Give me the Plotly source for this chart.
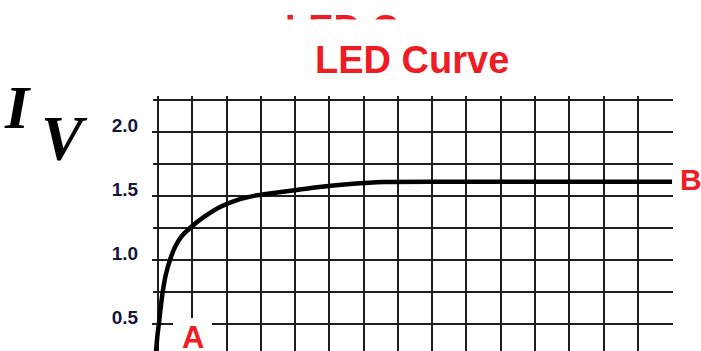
import plotly.graph_objects as go

# ---- data ----
led_x = [-0.10, -0.058, -0.015, 0.029, 0.088, 0.146, 0.233, 0.350, 0.496, 0.671, 0.934,
         1.342, 1.809, 2.305, 2.889, 3.647, 4.640, 5.603, 6.566, 9.0, 15.0]
led_y = [0.20, 0.287, 0.412, 0.506, 0.647, 0.764, 0.889, 0.998, 1.099, 1.177, 1.248,
         1.334, 1.412, 1.466, 1.503, 1.531, 1.566, 1.591, 1.607, 1.609, 1.609]
point_labels = ["A", "B"]
title_text = "LED Curve"
axis_letters = ["I", "V"]

# ---- layout geometry ----
W, H = 701, 351
ML, MR, MT, MB = 153, 28, 96, 0
PW, PH = W - ML - MR, H - MT - MB
X0_PX, UX = 158.0, 34.27      # pixel of x=0 and pixels per x-unit
Y2_PX, UY = 131.7, 128.0      # pixel of y=2.0 and pixels per y-unit
xr = [(ML - X0_PX) / UX, (ML + PW - X0_PX) / UX]
yr = [2.0 - (H - MB - Y2_PX) / UY, 2.0 + (Y2_PX - MT) / UY]


def px(xp):
    return (xp - ML) / PW


def py(yp):
    return (H - MB - yp) / PH


RED = "#ee1c25"
GRID = "#1e1e1e"
SANS = "Liberation Sans"
SERIF = "Liberation Serif"

fig = go.Figure()
fig.add_trace(go.Scatter(
    x=led_x, y=led_y, mode="lines",
    line=dict(color="black", width=4.5, shape="spline", smoothing=0.6),
    hoverinfo="skip", showlegend=False,
))

annotations = [
    # partially hidden duplicate title at the very top
    dict(text=title_text, x=px(381.5), y=py(29), xref="paper", yref="paper",
         xanchor="center", yanchor="middle", showarrow=False,
         font=dict(family=SANS, size=38, color=RED, weight="bold")),
    # white cover hiding most of it
    dict(text=" ", x=px(400), y=py(32), xref="paper", yref="paper",
         xanchor="center", yanchor="middle", showarrow=False,
         width=300, height=24, bgcolor="white", borderpad=0,
         font=dict(size=10)),
    # main title
    dict(text=title_text, x=px(411.5), y=py(60), xref="paper", yref="paper",
         xanchor="center", yanchor="middle", showarrow=False,
         font=dict(family=SANS, size=38, color=RED, weight="bold")),
    # big serif letters on the left
    dict(text=axis_letters[0], x=px(17), y=py(107.5), xref="paper", yref="paper",
         xanchor="center", yanchor="middle", showarrow=False,
         font=dict(family=SERIF, size=62, color="black", weight="bold", style="italic")),
    dict(text=axis_letters[1], x=px(64), y=py(139), xref="paper", yref="paper",
         xanchor="center", yanchor="middle", showarrow=False,
         font=dict(family=SERIF, size=63, color="black", weight="bold", style="italic")),
    # point labels
    dict(text=point_labels[0], x=px(193), y=py(337), xref="paper", yref="paper",
         xanchor="center", yanchor="middle", showarrow=False,
         font=dict(family=SANS, size=31, color=RED, weight="bold")),
    dict(text=point_labels[1], x=px(678), y=py(179), xref="paper", yref="paper",
         xanchor="left", yanchor="middle", showarrow=False,
         font=dict(family=SANS, size=30, color=RED, weight="bold")),
]

shapes = [
    dict(type="rect", xref="paper", yref="paper",
         x0=px(173), x1=px(212), y0=py(360), y1=py(318),
         fillcolor="white", line=dict(width=0), layer="above"),
]

fig.update_layout(
    width=W, height=H,
    margin=dict(l=ML, r=MR, t=MT, b=MB, pad=0),
    paper_bgcolor="white", plot_bgcolor="white",
    showlegend=False,
    annotations=annotations,
    shapes=shapes,
    xaxis=dict(range=xr, tick0=0, dtick=1, showgrid=True, gridcolor=GRID, gridwidth=2,
               showticklabels=False, ticks="", zeroline=False, showline=False,
               fixedrange=True),
    yaxis=dict(range=yr, tick0=0, dtick=0.5, tickformat=".1f",
               anchor="free", position=px(X0_PX),
               ticks="outside", ticklen=6, tickwidth=2, tickcolor=GRID,
               showgrid=True, gridcolor=GRID, gridwidth=2,
               minor=dict(tick0=0, dtick=0.25, showgrid=True, gridcolor=GRID, gridwidth=2),
               zeroline=False, showline=False,
               tickfont=dict(family=SANS, size=19, color="#16163a", weight="bold"),
               ticklabelstandoff=10, ticklabelshift=-6, fixedrange=True),
)

fig.write_html("out.html", config={"displayModeBar": False},
               post_script="document.body.style.margin='0px';document.body.style.overflow='hidden';")
